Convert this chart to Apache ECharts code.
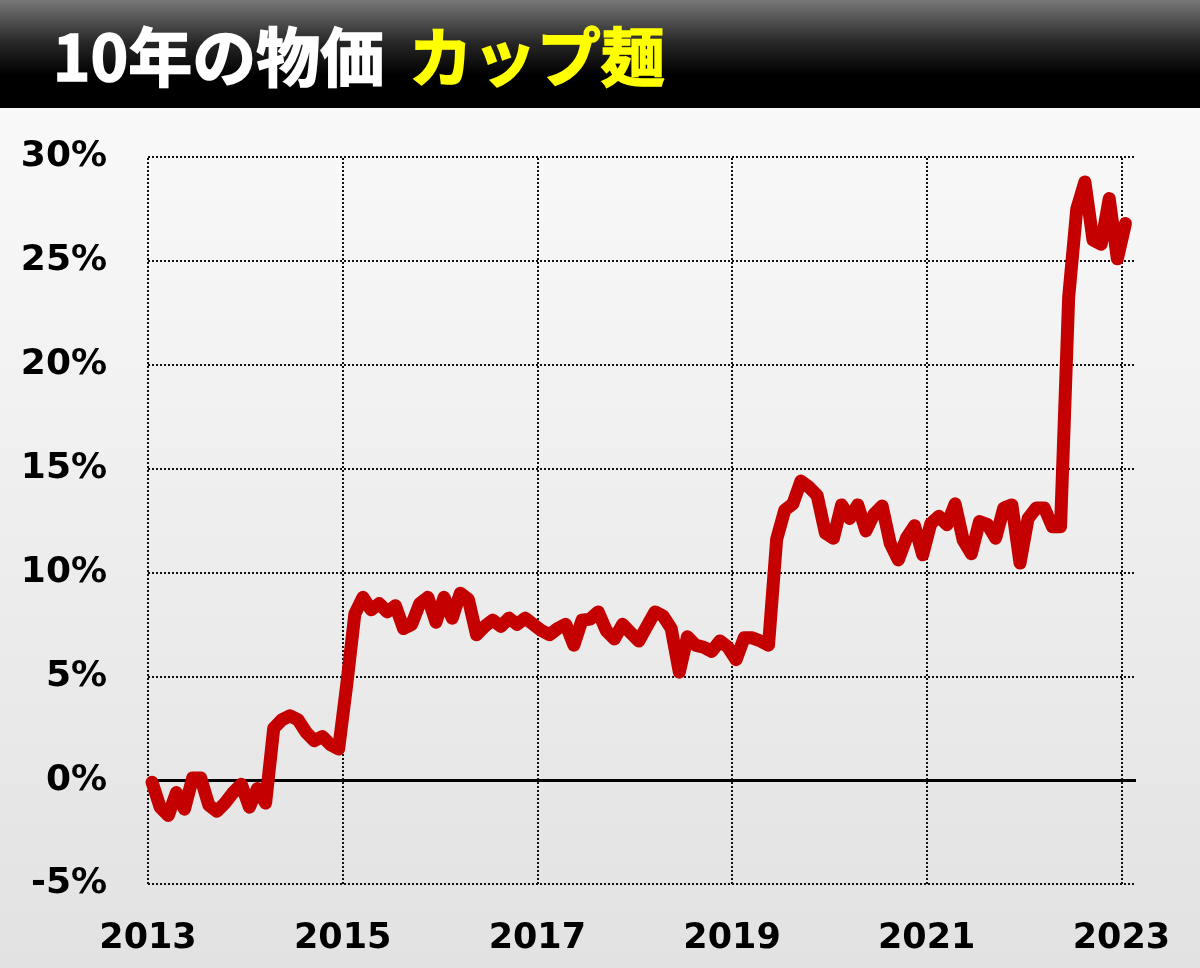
<!DOCTYPE html>
<html>
<head>
<meta charset="utf-8">
<script src="https://cdn.jsdelivr.net/npm/echarts@6/dist/echarts.min.js"></script>
<style>
html,body{margin:0;padding:0;background:#eee;}
#c{width:1200px;height:968px;}
</style>
</head>
<body>
<div id="c"></div>
<script>
// ---- data ----
const titleMain = '10年の物価';
const titleSub = 'カップ麺';
const startYear = 2013;           // first month: Jan 2013, monthly to Jan 2023
const yearTicks = [2013, 2015, 2017, 2019, 2021, 2023];
const yTicks = [-5, 0, 5, 10, 15, 20, 25, 30];
// year-on-year change (%), monthly
const values = [
  -0.1, -1.3, -1.7, -0.6, -1.4, 0.1, 0.1, -1.2, -1.5, -1.1, -0.6, -0.2,   // 2013
  -1.3, -0.4, -1.1, 2.5, 2.9, 3.1, 2.9, 2.3, 1.9, 2.1, 1.7, 1.5,          // 2014
  4.6, 8.0, 8.8, 8.2, 8.5, 8.1, 8.4, 7.3, 7.5, 8.5, 8.8, 7.6,             // 2015
  8.8, 7.8, 9.0, 8.7, 7.0, 7.4, 7.7, 7.4, 7.8, 7.5, 7.8, 7.5,             // 2016
  7.2, 7.0, 7.3, 7.5, 6.5, 7.7, 7.75, 8.1, 7.2, 6.8, 7.5, 7.1,            // 2017
  6.7, 7.4, 8.1, 7.9, 7.3, 5.2, 6.9, 6.5, 6.4, 6.2, 6.7, 6.4,             // 2018
  5.8, 6.85, 6.85, 6.7, 6.5, 11.6, 13.0, 13.3, 14.4, 14.1, 13.7, 11.9,    // 2019
  11.65, 13.25, 12.6, 13.25, 12.0, 12.8, 13.2, 11.4, 10.6, 11.65, 12.25, 10.85, // 2020
  12.35, 12.7, 12.3, 13.3, 11.55, 10.9, 12.45, 12.3, 11.65, 13.1, 13.25, 10.45, // 2021
  12.6, 13.1, 13.1, 12.2, 12.2, 23.25, 27.5, 28.8, 26.0, 25.8, 28.0, 25.1,      // 2022
  26.8                                                                          // 2023
];

const seriesData = values.map((v, i) => [startYear + (i + 0.5) / 12, v]);

const chart = echarts.init(document.getElementById('c'));
const FONT = '"DejaVu Sans", Verdana, sans-serif';
const dotted = { color: '#111', width: 2, type: [2, 2] };

chart.setOption({
  backgroundColor: new echarts.graphic.LinearGradient(0, 0, 0, 1, [
    { offset: 0, color: '#fcfcfc' },
    { offset: 1, color: '#e2e2e2' }
  ]),
  animation: false,
  graphic: [
    {
      type: 'rect', left: 0, top: 0, z: 10,
      shape: { width: 1200, height: 108 },
      style: {
        fill: new echarts.graphic.LinearGradient(0, 0, 0, 1, [
          { offset: 0, color: '#787878' },
          { offset: 0.4, color: '#262626' },
          { offset: 0.7, color: '#000000' },
          { offset: 1, color: '#000000' }
        ])
      }
    },
    {
      type: 'text', left: 52, top: 24, z: 11,
      style: { text: titleMain, fill: '#ffffff', stroke: '#ffffff', lineWidth: 1.5,
               font: 'bold 64px "Noto Sans CJK JP", sans-serif' }
    },
    {
      type: 'text', left: 408, top: 24, z: 11,
      style: { text: titleSub, fill: '#ffff00', stroke: '#ffff00', lineWidth: 1.5,
               font: 'bold 64px "Noto Sans CJK JP", sans-serif' }
    }
  ],
  grid: { left: 148, right: 64, top: 157, bottom: 84, containLabel: false },
  xAxis: {
    type: 'value',
    min: 2013, max: 2023.15, interval: 2,
    axisLine: { show: false },
    axisTick: { show: false },
    splitLine: { show: false },
    axisLabel: {
      margin: 37,
      color: '#000',
      fontFamily: FONT, fontWeight: 'bold', fontSize: 35,
      formatter: v => (Number.isInteger(v) ? String(v) : '')
    }
  },
  yAxis: {
    type: 'value',
    min: yTicks[0], max: yTicks[yTicks.length - 1], interval: 5,
    axisLine: { show: false },
    axisTick: { show: false },
    splitLine: { show: true, lineStyle: dotted },
    axisLabel: {
      margin: 41,
      color: '#000',
      fontFamily: FONT, fontWeight: 'bold', fontSize: 36,
      padding: [0, 0, 12, 0],
      formatter: '{value}%'
    }
  },
  series: [
    {
      type: 'line',
      data: seriesData,
      showSymbol: false,
      symbol: 'none',
      z: 5,
      lineStyle: { color: '#c40000', width: 13, join: 'round', cap: 'round' },
      markLine: {
        silent: true,
        symbol: 'none',
        label: { show: false },
        z: 1,
        data: yearTicks.map(y => ({ xAxis: y, lineStyle: dotted }))
          .concat([{ yAxis: 0, lineStyle: { color: '#000', width: 3, type: 'solid' } }])
      }
    }
  ]
});
</script>
</body>
</html>
